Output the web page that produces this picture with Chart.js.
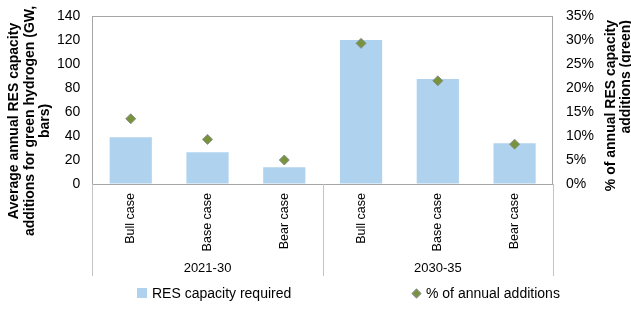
<!DOCTYPE html>
<html>
<head>
<meta charset="utf-8">
<script src="https://cdn.jsdelivr.net/npm/chart.js@4.4.0/dist/chart.umd.min.js"></script>
<style>
  html, body { margin: 0; padding: 0; background: #fff; }
  #wrap { position: relative; width: 631px; height: 309px; }
  .legend-item {
    position: absolute; top: 285px; height: 16px;
    font: 14px 'Liberation Sans', Arial, sans-serif; color: #000;
    display: flex; align-items: center; white-space: nowrap;
  }
  .swatch { width: 10px; height: 10px; background: #afd3ef; margin-right: 5px; }
  .diamond {
    width: 5px; height: 5px; background: #77933c; border: 1px solid #8c8c8c;
    transform: rotate(45deg); margin: 0 6px 0 1px;
  }
</style>
</head>
<body>
<div id="wrap">
  <canvas id="myChart" width="631" height="309"></canvas>
  <div class="legend-item" style="left:137px"><span class="swatch"></span>RES capacity required</div>
  <div class="legend-item" style="left:412px"><span class="diamond"></span>% of annual additions</div>
</div>
<script>
// ------------------   DATA   ----------------
const categories = ['Bull case', 'Base case', 'Bear case', 'Bull case', 'Base case', 'Bear case'];
const periods = ['2021-30', '2030-35'];
const capacityGW = [39, 26.5, 14, 120, 87.5, 34];
const shareOfAdditions = [13.6, 9.3, 5.0, 29.3, 21.5, 8.3];

const leftTitle = ['Average annual RES capacity', 'additions for green hydrogen (GW,', 'bars)'];
const rightTitle = ['% of annual RES capacity', 'additions (green)'];

// ------------------   STYLE   ----------------
const fontFamily = "'Liberation Sans', Arial, sans-serif";
const boxColor = '#a6a6a6';
const sepColor = '#c4c4c4';

Chart.defaults.font.family = fontFamily;
Chart.defaults.color = '#000';

// the value axes should not push the plot down for their top label
const noTopPad = (scale) => { scale.paddingTop = 0; };

// separators between the period groups + rotated axis titles
const extrasPlugin = {
  id: 'extras',
  afterDraw(chart) {
    const { ctx, chartArea, scales } = chart;
    const x2 = scales.x2;
    const mid = (x2.getPixelForTick(0) + x2.getPixelForTick(1)) / 2;
    ctx.save();
    ctx.strokeStyle = sepColor;
    ctx.lineWidth = 1;
    [x2.left, mid, x2.right].forEach((px) => {
      const x = Math.round(px) + 0.5;
      ctx.beginPath();
      ctx.moveTo(x, chartArea.bottom);
      ctx.lineTo(x, x2.bottom);
      ctx.stroke();
    });

    ctx.fillStyle = '#000';
    ctx.font = 'bold 14px ' + fontFamily;
    ctx.textBaseline = 'middle';

    // left title, centered
    const l = chartArea.left;
    const leftX = [l - 78, l - 62.5, l - 47];
    leftTitle.forEach((line, i) => {
      ctx.save();
      ctx.translate(leftX[i], 121);
      ctx.rotate(-Math.PI / 2);
      ctx.textAlign = 'center';
      ctx.fillText(line, 0, 0);
      ctx.restore();
    });

    // right title, end-aligned at the top
    const r = chartArea.right;
    const rightX = [r + 58, r + 73];
    rightTitle.forEach((line, i) => {
      ctx.save();
      ctx.translate(rightX[i], 20);
      ctx.rotate(-Math.PI / 2);
      ctx.textAlign = 'right';
      ctx.fillText(line, 0, 0);
      ctx.restore();
    });
    ctx.restore();
  },
};

function renderChart() {
  const ctx = document.getElementById('myChart').getContext('2d');
  new Chart(ctx, {
    data: {
      labels: categories,
      datasets: [
        {
          type: 'line',
          label: '% of annual additions',
          data: shareOfAdditions,
          yAxisID: 'y1',
          showLine: false,
          pointStyle: 'rectRot',
          pointRadius: 5,
          pointBackgroundColor: '#77933c',
          pointBorderColor: '#8c8c8c',
          pointBorderWidth: 1,
          order: 0,
        },
        {
          type: 'bar',
          label: 'RES capacity required',
          data: capacityGW,
          yAxisID: 'y',
          backgroundColor: '#afd3ef',
          categoryPercentage: 1,
          barPercentage: 0.55,
          order: 1,
        },
      ],
    },
    options: {
      responsive: false,
      animation: false,
      layout: { padding: { left: 45, right: 24, top: 16, bottom: 33 } },
      plugins: { legend: { display: false }, tooltip: { enabled: false } },
      scales: {
        x: {
          weight: 0,
          grid: { display: false, drawTicks: false },
          border: { color: boxColor },
          ticks: { font: { size: 12.5 }, minRotation: 90, maxRotation: 90, autoSkip: false, padding: 9 },
        },
        x2: {
          type: 'category',
          position: 'bottom',
          weight: 1,
          labels: periods,
          offset: true,
          grid: { display: false, drawTicks: false },
          border: { display: false },
          ticks: { font: { size: 13 }, padding: 0 },
        },
        y: {
          position: 'left',
          min: 0,
          max: 140,
          afterFit: noTopPad,
          ticks: { stepSize: 20, font: { size: 14 }, padding: 12 },
          grid: {
            drawTicks: false,
            color: (c) => (c.tick && c.tick.value === 140 ? boxColor : 'transparent'),
          },
          border: { color: boxColor },
        },
        y1: {
          position: 'right',
          min: 0,
          max: 35,
          afterFit: noTopPad,
          ticks: { stepSize: 5, font: { size: 14 }, padding: 13, callback: (v) => v + '%' },
          grid: { display: false, drawTicks: false },
          border: { color: boxColor },
        },
      },
    },
    plugins: [extrasPlugin],
  });
}

renderChart();
</script>
</body>
</html>
